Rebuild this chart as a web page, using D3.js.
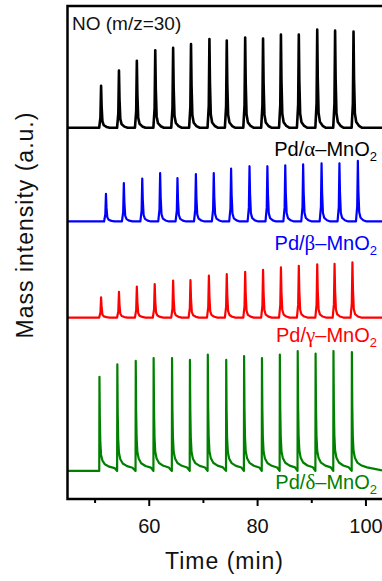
<!DOCTYPE html>
<html>
<head>
<meta charset="utf-8">
<script src="https://cdn.jsdelivr.net/npm/d3@7"></script>
<style>
  html, body { margin: 0; padding: 0; background: #fff; }
  svg { display: block; font-family: "Liberation Sans", Arial, sans-serif; }
</style>
</head>
<body>
<svg id="chart" width="382" height="581"></svg>
<script>
// Catalyst samples, stacked top to bottom
const greekLetters = ["α", "β", "γ", "δ"];
const seriesColors = ["#000000", "#0000ff", "#ff0000", "#008000"];
// Baseline offset of each stacked trace (a.u.)
const baselines = [75.3, 56.3, 36.8, 5.7];

// NO pulse arrival times (min) and peak heights above baseline (a.u.)
const peakTimesAlpha = [51.2, 54.5, 57.8, 61.2, 64.5, 67.8, 71.2, 74.4, 77.8, 81.1, 84.4, 87.7, 91.1, 94.4, 97.8];
const peakHeightsAlpha = [8.5, 11.6, 13.6, 15.7, 16.2, 17.0, 18.0, 17.7, 18.3, 18.1, 18.9, 18.9, 19.9, 19.7, 19.5];

const peakTimesBeta = [52.1, 55.4, 58.8, 62.1, 65.3, 68.7, 72.0, 75.2, 78.6, 81.9, 85.2, 88.5, 91.9, 95.2, 98.6];
const peakHeightsBeta = [5.6, 7.8, 8.7, 9.8, 8.8, 9.6, 9.8, 10.7, 11.2, 11.2, 11.4, 11.6, 11.8, 11.8, 12.3];

const peakTimesGamma = [51.2, 54.5, 57.8, 61.1, 64.5, 67.7, 71.1, 74.4, 77.8, 81.1, 84.4, 87.7, 91.1, 94.3, 97.6];
const peakHeightsGamma = [4.1, 5.2, 6.3, 6.8, 7.5, 7.6, 8.5, 8.8, 9.3, 9.7, 10.2, 10.5, 10.8, 10.9, 11.2];

const peakTimesDelta = [50.9, 54.2, 57.6, 60.9, 64.3, 67.6, 70.9, 74.3, 77.6, 80.9, 84.2, 87.5, 90.8, 94.1, 97.5];
const peakHeightsDelta = [19.1, 21.6, 22.3, 22.9, 22.9, 22.5, 23.6, 22.5, 23.3, 22.9, 23.6, 24.3, 23.8, 24.3, 24.1];

// Pulse line shapes: time offset from the peak (min) and fraction of peak height
const spikeProfileDt   = [-0.35, -0.12, 0, 0.1, 0.25, 0.5, 1.0, 1.6];
const spikeProfileFrac = [0, 0.25, 1, 0.5, 0.15, 0.06, 0.02, 0];
const tailProfileDt    = [-0.04, 0, 0.07, 0.16, 0.3, 0.55, 1.0, 1.8, 2.8];
const tailProfileFrac  = [0, 1, 0.55, 0.3, 0.17, 0.11, 0.07, 0.045, 0.03];

const xTicksMajor = [60, 80, 100];
const xTicksMinor = [50, 70, 90];
const timeDomain = [45, 103.5];
const intensityDomain = [0, 100];

const series = [
  { times: peakTimesAlpha, heights: peakHeightsAlpha, dt: spikeProfileDt, frac: spikeProfileFrac, width: 2.6 },
  { times: peakTimesBeta,  heights: peakHeightsBeta,  dt: spikeProfileDt, frac: spikeProfileFrac, width: 2.2 },
  { times: peakTimesGamma, heights: peakHeightsGamma, dt: spikeProfileDt, frac: spikeProfileFrac, width: 2.2 },
  { times: peakTimesDelta, heights: peakHeightsDelta, dt: tailProfileDt,  frac: tailProfileFrac,  width: 2.2 }
].map((s, i) => ({ ...s, base: baselines[i], color: seriesColors[i], greek: greekLetters[i] }));

const svg = d3.select("#chart");
const plot = { left: 67.5, right: 384.4, top: 6, bottom: 499 };

const x = d3.scaleLinear().domain(timeDomain).range([plot.left, plot.right]);
const y = d3.scaleLinear().domain(intensityDomain).range([plot.bottom, plot.top]);

svg.append("defs").append("clipPath").attr("id", "plot-clip")
  .append("rect")
  .attr("x", plot.left).attr("y", plot.top)
  .attr("width", plot.right - plot.left).attr("height", plot.bottom - plot.top);

// Build each trace from its pulse list
function tracePoints(s) {
  const pts = [[timeDomain[0], s.base]];
  s.times.forEach((t0, k) => {
    s.dt.forEach((d, j) => pts.push([t0 + d, s.base + s.heights[k] * s.frac[j]]));
  });
  pts.push([timeDomain[1], s.base]);
  return pts;
}

const line = d3.line().x(d => x(d[0])).y(d => y(d[1]));

svg.append("g").attr("clip-path", "url(#plot-clip)")
  .selectAll("path")
  .data(series)
  .join("path")
  .attr("d", d => line(tracePoints(d)))
  .attr("fill", "none")
  .attr("stroke", d => d.color)
  .attr("stroke-width", d => d.width)
  .attr("stroke-linejoin", "round");

// Frame
svg.append("rect")
  .attr("x", plot.left).attr("y", plot.top)
  .attr("width", plot.right - plot.left).attr("height", plot.bottom - plot.top)
  .attr("fill", "none").attr("stroke", "#000").attr("stroke-width", 2.5);

// Bottom axis: labelled major ticks and short minor ticks
const axisMajor = svg.append("g")
  .attr("transform", `translate(0,${plot.bottom})`)
  .call(d3.axisBottom(x).tickValues(xTicksMajor).tickSize(7).tickPadding(13).tickFormat(d3.format("d")));
const axisMinor = svg.append("g")
  .attr("transform", `translate(0,${plot.bottom})`)
  .call(d3.axisBottom(x).tickValues(xTicksMinor).tickSize(4).tickFormat(""));
[axisMajor, axisMinor].forEach(g => {
  g.select(".domain").remove();
  g.selectAll(".tick line").attr("stroke", "#000").attr("stroke-width", 2);
});
axisMajor.selectAll(".tick text")
  .attr("font-size", 20).attr("fill", "#111")
  .attr("font-family", "Liberation Sans, Arial, sans-serif");

// Axis titles
svg.append("text")
  .attr("x", 224.5).attr("y", 569)
  .attr("text-anchor", "middle")
  .attr("font-size", 23).attr("letter-spacing", 1).attr("fill", "#111")
  .text("Time (min)");

svg.append("text")
  .attr("transform", "translate(33,225) rotate(-90)")
  .attr("text-anchor", "middle")
  .attr("font-size", 23).attr("letter-spacing", 1).attr("fill", "#111")
  .text("Mass intensity (a.u.)");

// Gas label
svg.append("text")
  .attr("x", 72).attr("y", 29.5)
  .attr("font-size", 19).attr("fill", "#111")
  .text("NO (m/z=30)");

// Sample labels, right-aligned under each trace
const labelBaselines = [155.5, 250, 341.7, 489.3];
series.forEach((s, i) => {
  const t = svg.append("text")
    .attr("x", 377).attr("y", labelBaselines[i])
    .attr("text-anchor", "end")
    .attr("font-size", 20)
    .attr("fill", s.color);
  t.append("tspan").text("Pd/");
  t.append("tspan").attr("font-family", "Liberation Serif, serif").attr("font-size", 21).text(s.greek);
  t.append("tspan").text("–MnO");
  t.append("tspan").attr("font-size", 13).attr("dy", 5).text("2");
});
</script>
</body>
</html>
